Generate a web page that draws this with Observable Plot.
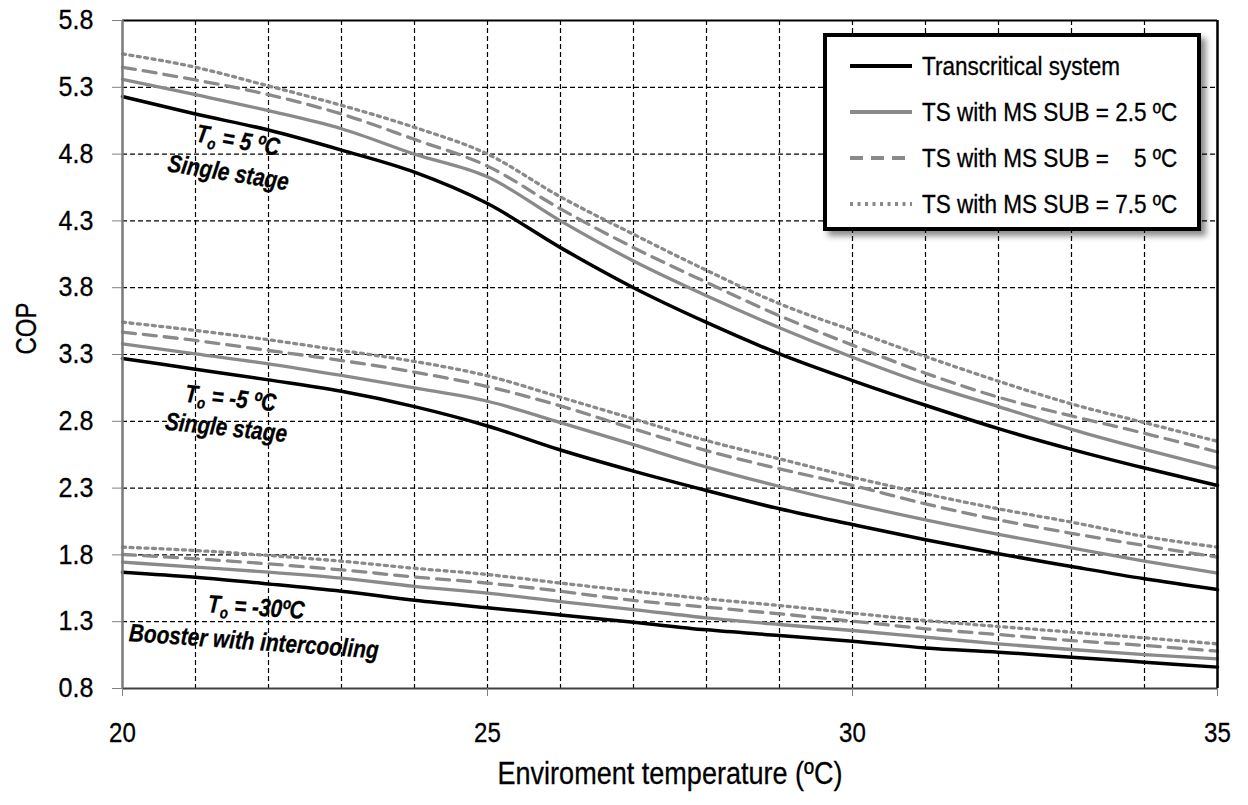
<!DOCTYPE html>
<html><head><meta charset="utf-8">
<script src="https://cdn.jsdelivr.net/npm/d3@7"></script>
<script src="https://cdn.jsdelivr.net/npm/@observablehq/plot@0.6"></script>
<style>
body{margin:0;background:#fff;}
#wrap{position:relative;width:1248px;height:805px;font-family:"Liberation Sans",Arial,sans-serif;}
#legend{position:absolute;left:823px;top:33px;width:370px;height:190px;border:4px solid #000;background:#fff;box-shadow:5px 5px 6px rgba(0,0,0,0.45);}
.row{position:absolute;left:23px;height:30px;display:flex;align-items:center;white-space:pre;font-size:25px;color:#000;}
.row svg{margin-right:10px;flex:none;}
.row span{display:inline-block;transform:scaleX(0.9);transform-origin:left center;-webkit-text-stroke:0.3px #000;}
</style></head><body><div id="wrap"></div>
<script>
// ---- data ----
const temps = [20,21,22,23,24,25,26,27,28,29,30,31,32,33,34,35];
// To = 5 ºC, single stage
const to5_ts    = [5.23,5.10,4.98,4.83,4.665,4.43,4.10,3.80,3.54,3.305,3.105,2.92,2.745,2.59,2.45,2.32];
const to5_sub25 = [5.36,5.245,5.125,4.99,4.80,4.63,4.30,4.00,3.74,3.50,3.28,3.08,2.91,2.74,2.59,2.45];
const to5_sub5  = [5.45,5.355,5.245,5.10,4.91,4.71,4.39,4.10,3.84,3.59,3.37,3.16,2.98,2.84,2.71,2.57];
const to5_sub75 = [5.55,5.45,5.31,5.165,5.00,4.80,4.48,4.20,3.93,3.68,3.48,3.285,3.10,2.93,2.79,2.65];
// To = -5 ºC, single stage
const tom5_ts    = [3.27,3.19,3.11,3.025,2.91,2.765,2.585,2.427,2.282,2.145,2.027,1.913,1.808,1.713,1.621,1.54];
const tom5_sub25 = [3.38,3.305,3.23,3.143,3.05,2.95,2.79,2.625,2.457,2.312,2.182,2.062,1.953,1.853,1.753,1.663];
const tom5_sub5  = [3.467,3.405,3.33,3.255,3.168,3.06,2.915,2.744,2.58,2.444,2.32,2.182,2.062,1.962,1.87,1.783];
const tom5_sub75 = [3.542,3.48,3.41,3.33,3.248,3.14,2.98,2.818,2.656,2.519,2.382,2.257,2.145,2.045,1.938,1.858];
// To = -30 ºC, booster with intercooling
const tom30_ts    = [1.671,1.633,1.583,1.528,1.46,1.404,1.351,1.296,1.239,1.197,1.154,1.104,1.072,1.034,0.997,0.96];
const tom30_sub25 = [1.746,1.708,1.671,1.626,1.565,1.514,1.451,1.391,1.329,1.279,1.234,1.184,1.134,1.092,1.054,1.022];
const tom30_sub5  = [1.803,1.771,1.733,1.688,1.635,1.589,1.528,1.459,1.409,1.359,1.304,1.247,1.204,1.159,1.122,1.079];
const tom30_sub75 = [1.858,1.833,1.796,1.753,1.70,1.653,1.589,1.528,1.471,1.421,1.364,1.309,1.264,1.222,1.179,1.134];

const seriesNames = ["Transcritical system","TS with MS SUB = 2.5 ºC","TS with MS SUB =    5 ºC","TS with MS SUB = 7.5 ºC"];
const yTicks = [0.8,1.3,1.8,2.3,2.8,3.3,3.8,4.3,4.8,5.3,5.8];
const xTicks = [20,25,30,35];
const xGrid = [21,22,23,24,25,26,27,28,29,30,31,32,33,34];
const yGrid = [1.3,1.8,2.3,2.8,3.3,3.8,4.3,4.8,5.3];
const annLabels = ["T_o = 5 ºC","Single stage","T_o = -5 ºC","Single stage","T_o = -30ºC","Booster with intercooling"];
const xTitle = "Enviroment temperature (ºC)";
const yTitle = "COP";

// ---- build table ----
const groups = [
  {g:"5",   vals:[to5_ts,to5_sub25,to5_sub5,to5_sub75]},
  {g:"-5",  vals:[tom5_ts,tom5_sub25,tom5_sub5,tom5_sub75]},
  {g:"-30", vals:[tom30_ts,tom30_sub25,tom30_sub5,tom30_sub75]}
];
const rows = [];
groups.forEach(G => G.vals.forEach((arr,si) => arr.forEach((v,i) => rows.push({T:temps[i], COP:v, group:G.g, s:si}))));
const bySeries = si => rows.filter(r => r.s === si);

// annotation anchors (data space) and rotations
const annAnchors = [[21.58,4.90,10],[21.45,4.66,9],[21.48,2.97,6],[21.42,2.75,6],[21.83,1.406,4],[21.80,1.15,4]];
const ann = annLabels.map((t,i)=>({label:t, T:annAnchors[i][0], COP:annAnchors[i][1], rot:annAnchors[i][2]}));

const GRAY = "#8a8a8a";
const styles = [
  {stroke:"#000", dash:null},
  {stroke:GRAY, dash:null},
  {stroke:GRAY, dash:"13,8"},
  {stroke:GRAY, dash:"3,4.5"}
];

const chart = Plot.plot({
  width:1248, height:805,
  marginLeft:122, marginRight:31, marginTop:20, marginBottom:117,
  style:{fontFamily:'"Liberation Sans",Arial,sans-serif', background:"#fff", color:"#000"},
  x:{domain:[20,35]},
  y:{domain:[0.8,5.8]},
  marks:[
    Plot.gridX(xGrid, {stroke:"#000", strokeOpacity:1, strokeWidth:1.2, strokeDasharray:"5,3"}),
    Plot.gridY(yGrid, {stroke:"#000", strokeOpacity:1, strokeWidth:1.2, strokeDasharray:"5,3"}),
    ...[3,2,1,0].map(si => Plot.line(bySeries(si), {x:"T", y:"COP", z:"group", stroke:styles[si].stroke, strokeWidth:si===0?3.5:3.3, strokeDasharray:styles[si].dash, curve:"monotone-x"})),
    Plot.ruleY([5.8], {stroke:"#000", strokeWidth:2}),
    Plot.ruleX([35], {stroke:"#000", strokeWidth:2.5}),
    Plot.ruleY([0.8], {stroke:"#404040", strokeWidth:2}),
    Plot.ruleX([20], {stroke:"#7a7a7a", strokeWidth:2.5}),
    Plot.axisY(yTicks, {tickSize:10, tickPadding:19, fontSize:27, stroke:"#808080", fill:"#000", label:null, tickFormat:d=>d.toFixed(1)}),
    Plot.axisX(xTicks, {tickSize:8, tickPadding:26, fontSize:28, stroke:"#808080", fill:"#000", label:null, tickFormat:d=>String(d)}),
    Plot.text(ann, {x:"T", y:"COP", text:"label", rotate:"rot", fontSize:25, fontWeight:"bold", fontStyle:"italic", fill:"#000"}),
    Plot.text([xTitle], {text:d=>d, frameAnchor:"bottom", dy:95, fontSize:32, fill:"#000"}),
    Plot.text([yTitle], {text:d=>d, frameAnchor:"left", dx:-96, rotate:-90, fontSize:30, fill:"#000"})
  ]
});

// subscripts for T_o
chart.querySelectorAll("text").forEach(el => {
  const s = el.textContent;
  if (el.children.length === 0 && s.startsWith("T_o")) {
    el.textContent = "";
    const NS = "http://www.w3.org/2000/svg";
    const a = document.createElementNS(NS,"tspan"); a.textContent = "T";
    const b = document.createElementNS(NS,"tspan"); b.textContent = "o"; b.setAttribute("font-size","16"); b.setAttribute("dy","5");
    const c = document.createElementNS(NS,"tspan"); c.textContent = s.slice(3); c.setAttribute("dy","-5");
    el.append(a,b,c);
  }
});

const wrap = document.getElementById("wrap");
wrap.appendChild(chart);

// narrow the glyphs (condensed look of the original font)
const squeeze = {"27":0.93, "28":0.86, "32":0.845, "30":0.8, "25":0.83};
chart.querySelectorAll("g[font-size]").forEach(g => {
  const f = squeeze[g.getAttribute("font-size")];
  if (!f) return;
  g.querySelectorAll("text").forEach(t => {
    const L = t.getComputedTextLength();
    if (L > 0) {
      t.setAttribute("textLength", (L*f).toFixed(2));
      t.setAttribute("lengthAdjust","spacingAndGlyphs");
      t.setAttribute("stroke","#000");
      t.setAttribute("stroke-width","0.3");
    }
  });
});

// legend
const leg = document.createElement("div");
leg.id = "legend";
const rowTops = [14,60,106,152];
seriesNames.forEach((name,si) => {
  const r = document.createElement("div");
  r.className = "row";
  r.style.top = rowTops[si] + "px";
  const st = styles[si];
  r.innerHTML = `<svg width="62" height="10"><line x1="0" x2="62" y1="5" y2="5" stroke="${st.stroke}" stroke-width="4" ${st.dash?`stroke-dasharray="${st.dash}"`:""}/></svg><span>${name}</span>`;
  leg.appendChild(r);
});
wrap.appendChild(leg);
</script></body></html>
